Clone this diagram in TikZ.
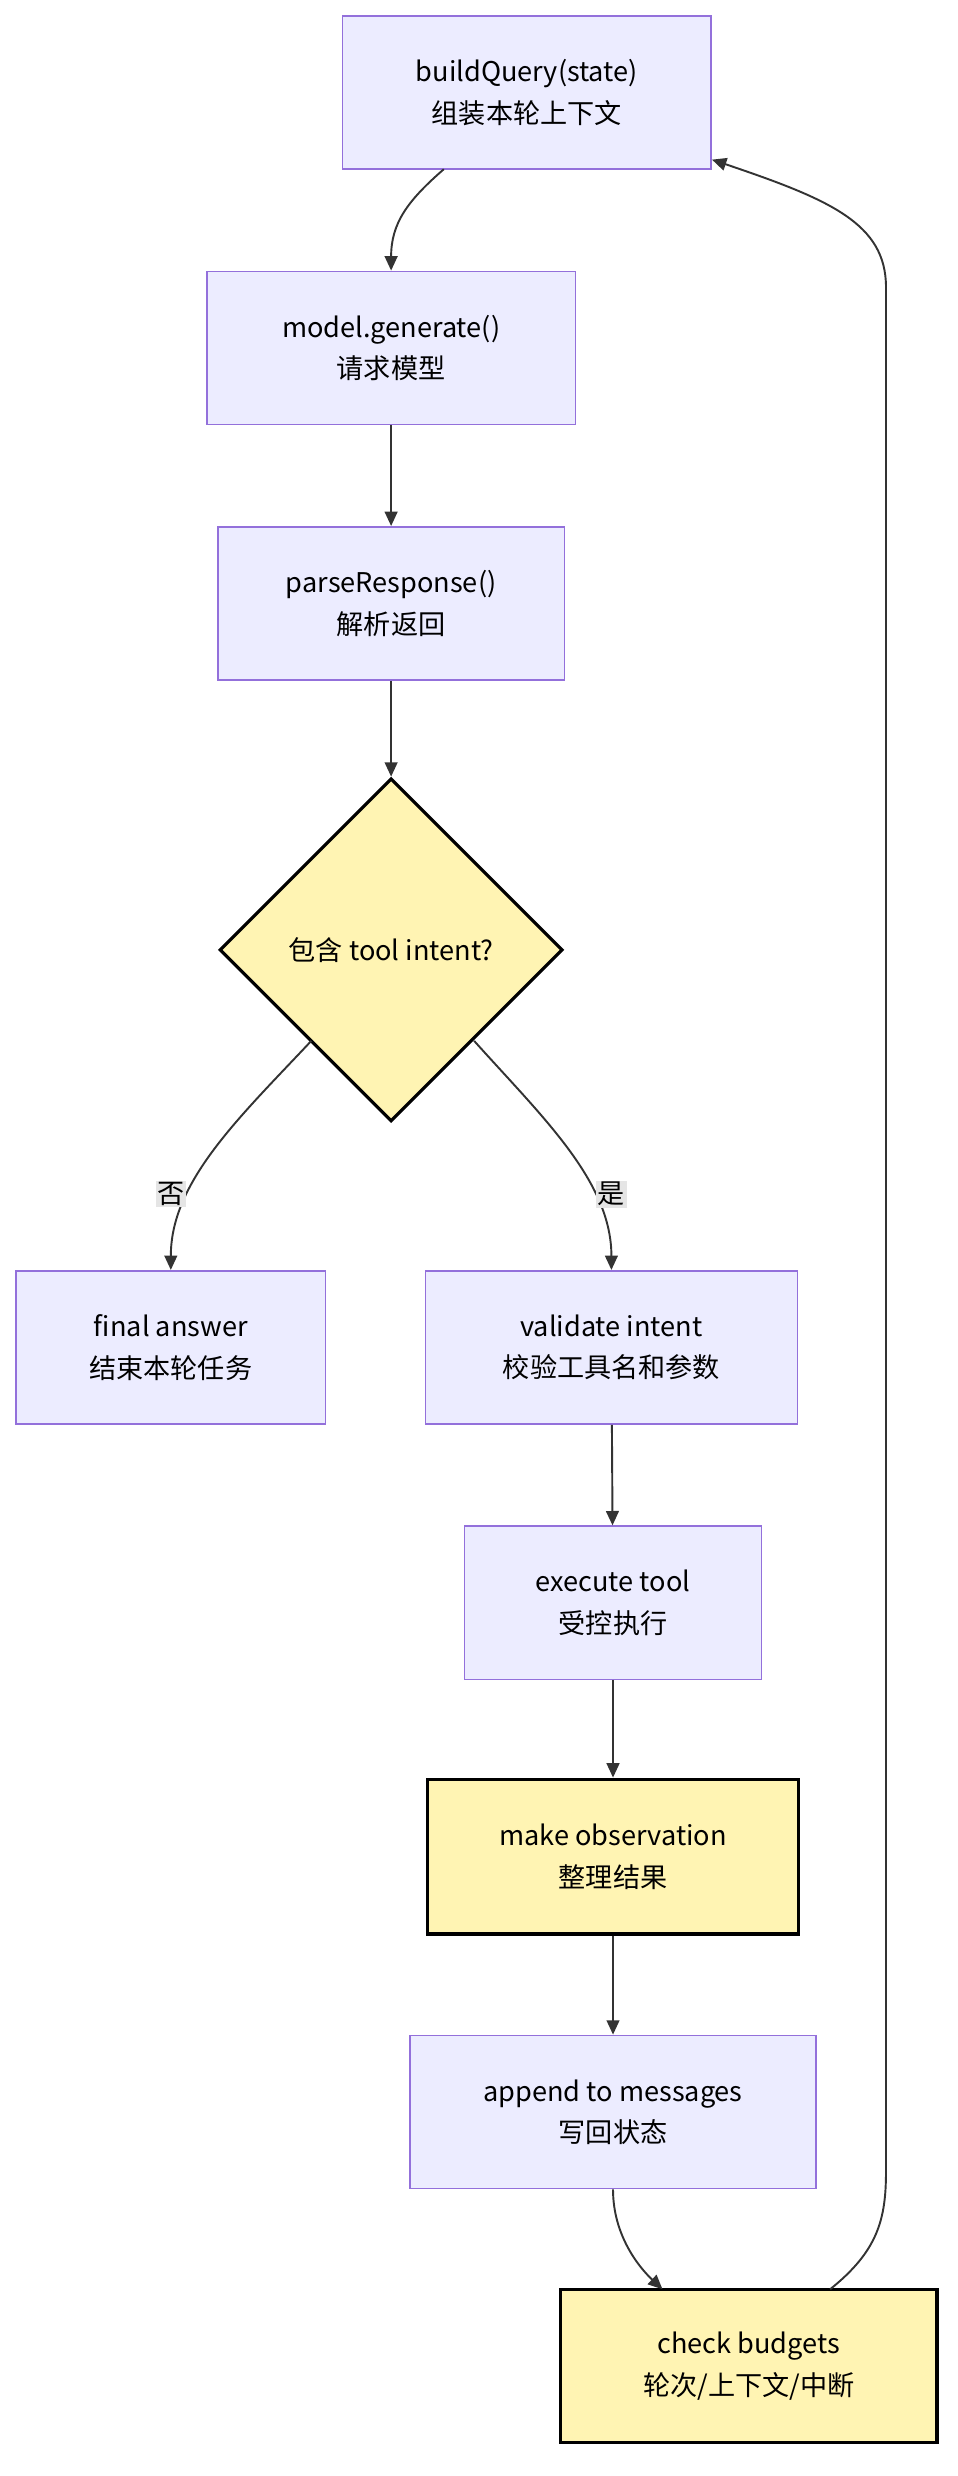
\documentclass[tikz,border=0pt]{standalone}
\usepackage{fontspec}
\setmainfont{Noto Sans CJK SC}
\usetikzlibrary{shapes.geometric,arrows.meta}
\definecolor{pfill}{HTML}{ECECFF}
\definecolor{pline}{HTML}{9370DB}
\definecolor{yfill}{HTML}{FFF4B3}
\definecolor{dline}{HTML}{333333}
\begin{document}
\begin{tikzpicture}[x=1pt,y=-1pt,
  box/.style={draw=pline,fill=pfill,line width=1pt,align=center,font=\fontsize{17}{26}\selectfont,inner sep=0},
  ybox/.style={draw=black,fill=yfill,line width=2pt,align=center,font=\fontsize{17}{26}\selectfont,inner sep=0},
  arr/.style={draw=dline,line width=1.2pt,-{Triangle[length=9pt,width=8pt]}},
  lab/.style={fill=black!10,font=\fontsize{17}{20}\selectfont,inner sep=1pt}]
\useasboundingbox (0,0) rectangle (600,1551);
\node[box,minimum width=231,minimum height=96] (bq) at (330,58) {buildQuery(state)\\组装本轮上下文};
\node[box,minimum width=231,minimum height=96] (mg) at (245,218) {model.generate()\\请求模型};
\node[box,minimum width=217,minimum height=96] (pr) at (245,378) {parseResponse()\\解析返回};
\node[draw=black,fill=yfill,line width=2pt,diamond,minimum width=215,minimum height=215,inner sep=0,font=\fontsize{17}{20}\selectfont] (d) at (245,595) {};
\node[font=\fontsize{17}{20}\selectfont] at (245,595) {包含 tool intent?};
\node[box,minimum width=194,minimum height=96] (fa) at (107,844) {final answer\\结束本轮任务};
\node[box,minimum width=233,minimum height=96] (vi) at (383,844) {validate intent\\校验工具名和参数};
\node[box,minimum width=186,minimum height=96] (et) at (384,1004) {execute tool\\受控执行};
\node[ybox,minimum width=232,minimum height=97] (mo) at (384,1163) {make observation\\整理结果};
\node[box,minimum width=254,minimum height=96] (ap) at (384,1323) {append to messages\\写回状态};
\node[ybox,minimum width=236,minimum height=96] (cb) at (469,1482) {check budgets\\轮次/上下文/中断};
\draw[arr] (278,106) .. controls (255,126) and (245,140) .. (mg.north);
\draw[arr] (mg) -- (pr);
\draw[arr] (pr) -- (d.north);
\draw[arr] (195,652) .. controls (150,700) and (107,740) .. (fa.north);
\draw[arr] (297,652) .. controls (340,700) and (383,740) .. (vi.north);
\node[lab] at (107,748) {否};
\node[lab] at (383,748) {是};
\draw[arr] (vi) -- (et);
\draw[arr] (et) -- (mo);
\draw[arr] (mo) -- (ap);
\draw[arr] (ap.south) .. controls (384,1400) and (400,1420) .. (415,1434);
\draw[arr] (520,1434) .. controls (550,1410) and (555,1390) .. (555,1360) -- (555,180) .. controls (555,140) and (520,125) .. (446,100);
\end{tikzpicture}
\end{document}
